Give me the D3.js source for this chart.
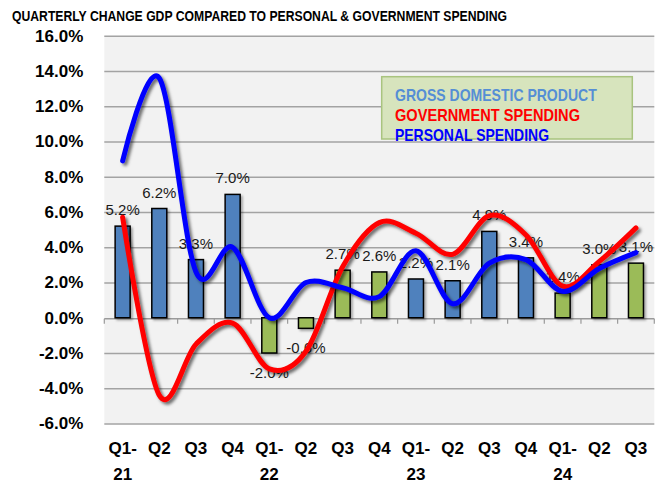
<!doctype html>
<html>
<head>
  <title>Quarterly change GDP</title>
  <script src="https://d3js.org/d3.v7.min.js"></script>
  <style>
  body { margin: 0; background: #fff; }
  svg { font-family: "Liberation Sans", Arial, sans-serif; }
  .grid line { stroke: #a3a3a3; stroke-width: 1.5px; }
  .grid path { display: none; }
  .grid text { font-weight: bold; font-size: 17px; fill: #000; }
  .xlab { font-weight: bold; font-size: 17px; fill: #000; }
  .dlab { font-size: 15px; fill: #1a1a1a; }
  </style>
</head>
<body>
  <script>
    // data
    var categories = ["Q1-21", "Q2-21", "Q3-21", "Q4-21",
                      "Q1-22", "Q2-22", "Q3-22", "Q4-22",
                      "Q1-23", "Q2-23", "Q3-23", "Q4-23",
                      "Q1-24", "Q2-24", "Q3-24"];
    var tickLabels = ["Q1-\n21", "Q2", "Q3", "Q4",
                      "Q1-\n22", "Q2", "Q3", "Q4",
                      "Q1-\n23", "Q2", "Q3", "Q4",
                      "Q1-\n24", "Q2", "Q3"];
    var gdp = [5.2, 6.2, 3.3, 7.0, -2.0, -0.6, 2.7, 2.6, 2.2, 2.1, 4.9, 3.4, 1.4, 3.0, 3.1];
    var gdpGroup = ["a", "a", "a", "a", "b", "b", "b", "b", "a", "a", "a", "a", "b", "b", "b"];
    var government = [5.7, -4.4, -1.5, -0.3, -2.9, -1.9, 2.9, 5.4, 4.8, 3.6, 5.8, 4.7, 1.8, 3.2, 5.1];
    var personal = [8.9, 13.6, 2.6, 4.0, 0.0, 2.0, 1.7, 1.2, 3.8, 0.8, 3.1, 3.3, 1.5, 2.8, 3.7];
    var yTicks = [-6, -4, -2, 0, 2, 4, 6, 8, 10, 12, 14, 16];
    var legendItems = ["GROSS DOMESTIC PRODUCT", "GOVERNMENT SPENDING", "PERSONAL SPENDING"];

    var width = 665, height = 482;
    var plotLeft = 104.3, plotRight = 654.3, plotTop = 35.8, plotBottom = 423.5;

    var svg = d3.select("body").append("svg")
        .attr("width", width)
        .attr("height", height);

    var defs = svg.append("defs");
    defs.append("filter").attr("id", "lineShadow")
        .attr("x", "-10%").attr("y", "-10%").attr("width", "130%").attr("height", "130%")
      .append("feDropShadow")
        .attr("dx", 2.5).attr("dy", 2.5).attr("stdDeviation", 1.6)
        .attr("flood-color", "#000").attr("flood-opacity", 0.55);
    defs.append("filter").attr("id", "barShadow")
        .attr("x", "-20%").attr("y", "-20%").attr("width", "150%").attr("height", "150%")
      .append("feDropShadow")
        .attr("dx", 2).attr("dy", 2).attr("stdDeviation", 1)
        .attr("flood-color", "#000").attr("flood-opacity", 0.3);

    var x = d3.scaleBand()
        .domain(categories)
        .range([plotLeft, plotRight]);

    var y = d3.scaleLinear()
        .domain([-6, 16])
        .range([plotBottom, plotTop]);

    var cx = function(d, i) { return x(categories[i]) + x.bandwidth() / 2; };

    var colour = d3.scaleOrdinal()
        .domain(["a", "b"])
        .range(["#4f81bd", "#9bbb59"]);

    // title
    svg.append("text")
        .attr("x", 12)
        .attr("y", 21)
        .attr("font-size", "14px")
        .attr("font-weight", "bold")
        .attr("textLength", 495)
        .attr("lengthAdjust", "spacingAndGlyphs")
        .text("QUARTERLY CHANGE GDP COMPARED TO PERSONAL & GOVERNMENT SPENDING");

    // plot area
    svg.append("rect")
        .attr("x", plotLeft)
        .attr("y", plotTop)
        .attr("width", plotRight - plotLeft)
        .attr("height", plotBottom - plotTop)
        .attr("fill", "#f2f2f2");

    svg.append("g")
        .attr("class", "grid")
        .attr("transform", "translate(" + plotLeft + ",0)")
        .call(d3.axisLeft(y)
          .tickValues(yTicks)
          .tickSize(-(plotRight - plotLeft))
          .tickPadding(21)
          .tickFormat(function(d) { return d.toFixed(1) + "%"; }))
        .selectAll("line").filter(function(d) { return d === 0; }).remove();

    // zero axis with category ticks
    var axis = svg.append("g").attr("transform", "translate(0," + (y(0) + 1) + ")");
    axis.append("line")
        .attr("x1", plotLeft).attr("x2", plotRight)
        .attr("stroke", "#9a9a9a").attr("stroke-width", 1.5);
    axis.selectAll(".tk")
        .data(d3.range(categories.length + 1))
      .enter().append("line")
        .attr("class", "tk")
        .attr("x1", function(i) { return plotLeft + i * x.step(); })
        .attr("x2", function(i) { return plotLeft + i * x.step(); })
        .attr("y1", 0).attr("y2", 5)
        .attr("stroke", "#9a9a9a").attr("stroke-width", 1.2);

    // bars
    var barW = 15;
    svg.append("g")
        .attr("filter", "url(#barShadow)")
      .selectAll("rect")
        .data(gdp)
      .enter().append("rect")
        .attr("x", function(d, i) { return cx(d, i) - barW / 2; })
        .attr("y", function(d) { return y(Math.max(0, d)); })
        .attr("width", barW)
        .attr("height", function(d) { return Math.abs(y(d) - y(0)); })
        .attr("fill", function(d, i) { return colour(gdpGroup[i]); })
        .attr("stroke", "#000")
        .attr("stroke-width", 1.5);

    // data labels
    svg.append("g")
      .selectAll("text")
        .data(gdp)
      .enter().append("text")
        .attr("class", "dlab")
        .attr("x", cx)
        .attr("y", function(d) { return d >= 0 ? y(d) - 11 : y(d) + 25; })
        .attr("text-anchor", "middle")
        .text(function(d) { return d.toFixed(1) + "%"; });

    // smoothed lines
    var line = d3.line()
        .x(cx)
        .y(function(d) { return y(d); })
        .curve(d3.curveCatmullRom.alpha(0));

    svg.append("path")
        .datum(government)
        .attr("d", line)
        .attr("fill", "none")
        .attr("stroke", "#ff0000")
        .attr("stroke-width", 5)
        .attr("stroke-linecap", "round")
        .attr("filter", "url(#lineShadow)");

    svg.append("path")
        .datum(personal)
        .attr("d", line)
        .attr("fill", "none")
        .attr("stroke", "#0000ff")
        .attr("stroke-width", 5)
        .attr("stroke-linecap", "round")
        .attr("filter", "url(#lineShadow)");

    // category labels
    var xl = svg.append("g").selectAll("text")
        .data(tickLabels)
      .enter().append("text")
        .attr("class", "xlab")
        .attr("text-anchor", "middle");
    xl.each(function(d, i) {
      var t = d3.select(this);
      d.split("\n").forEach(function(part, k) {
        t.append("tspan")
            .attr("x", cx(d, i))
            .attr("y", 454 + k * 25.5)
            .text(part);
      });
    });

    // legend box
    svg.append("rect")
        .attr("x", 381.7)
        .attr("y", 76.7)
        .attr("width", 250.6)
        .attr("height", 62.3)
        .attr("fill", "#d7e4bd")
        .attr("stroke", "#a9c47f")
        .attr("stroke-width", 1.5);

    var legendColour = ["#558ed5", "#ff0000", "#0000ff"];
    var legendWidth = [201.7, 185, 154];
    svg.append("g").selectAll("text")
        .data(legendItems)
      .enter().append("text")
        .attr("x", 395)
        .attr("y", function(d, i) { return 100.7 + i * 20.2; })
        .attr("font-size", "17px")
        .attr("font-weight", "bold")
        .attr("fill", function(d, i) { return legendColour[i]; })
        .attr("textLength", function(d, i) { return legendWidth[i]; })
        .attr("lengthAdjust", "spacingAndGlyphs")
        .text(function(d) { return d; });
  </script>
</body>
</html>
